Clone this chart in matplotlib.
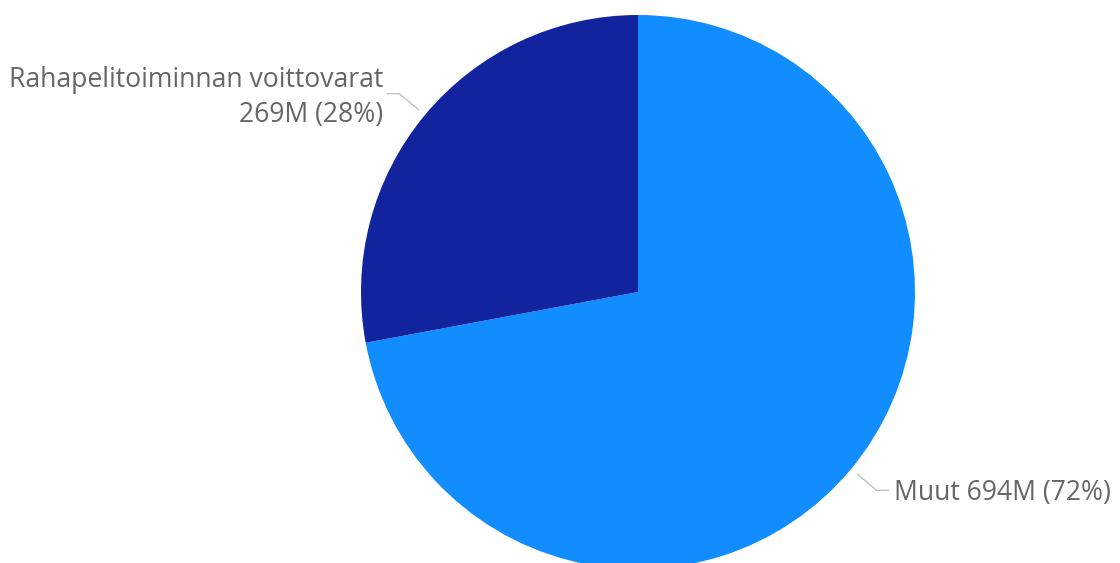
import numpy as np
import matplotlib
matplotlib.use("Agg")
import matplotlib.pyplot as plt

labels = ["Muut", "Rahapelitoiminnan voittovarat"]
values = [694, 269]
value_labels = ["694M", "269M"]
colors = ["#118DFF", "#12239E"]

W, H = 1120, 563
fig = plt.figure(figsize=(W / 100, H / 100), dpi=100)
ax = fig.add_axes([0, 0, 1, 1])

cx, cy, r = 638, 563 - 292, 277
wedges, _ = ax.pie(values, colors=colors, startangle=90, counterclock=False,
                   center=(cx, cy), radius=r, frame=True,
                   wedgeprops=dict(linewidth=0))
ax.set_xlim(0, W)
ax.set_ylim(0, H)
ax.set_aspect("equal")
ax.axis("off")

total = sum(values)
font = dict(family=["Open Sans", "DejaVu Sans"], size=19.1, color="#666666")
for w, lab, val, v in zip(wedges, labels, value_labels, values):
    ang = np.deg2rad((w.theta1 + w.theta2) / 2)
    x0, y0 = cx + 1.03 * r * np.cos(ang), cy + 1.03 * r * np.sin(ang)
    x1, y1 = cx + 1.12 * r * np.cos(ang), cy + 1.12 * r * np.sin(ang)
    side = 1 if np.cos(ang) > 0 else -1
    x2 = x1 + side * 12
    ax.plot([x0, x1, x2], [y0, y1, y1], color="#bbbbbb", lw=0.9)
    pct = f"({round(100 * v / total)}%)"
    if side > 0:
        ax.text(x2 + 5, y1 - 3, f"{lab} {val} {pct}", ha="left", va="center", **font)
    else:
        ax.text(x2 - 4, y1 + 14, lab, ha="right", va="center", **font)
        ax.text(x2 - 4, y1 - 21, f"{val} {pct}", ha="right", va="center", **font)

fig.savefig("out.png", dpi=100, facecolor="white")
